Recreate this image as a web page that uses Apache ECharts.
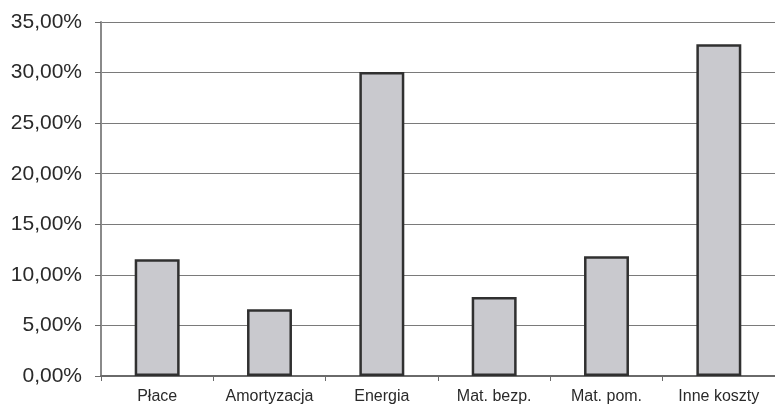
<!DOCTYPE html>
<html>
<head>
<meta charset="utf-8">
<script src="https://cdn.jsdelivr.net/npm/echarts@6/dist/echarts.min.js"></script>
<style>
  html, body { margin: 0; padding: 0; background: #fff; }
  #chart { width: 775px; height: 409px; }
</style>
</head>
<body>
<div id="chart"></div>
<script>
// Cost structure shares (percent)
const categories = ['Płace', 'Amortyzacja', 'Energia', 'Mat. bezp.', 'Mat. pom.', 'Inne koszty'];
const shares = [11.55, 6.6, 30.05, 7.8, 11.85, 32.8];
const yTicks = [0, 5, 10, 15, 20, 25, 30, 35];

const chart = echarts.init(document.getElementById('chart'), null, { renderer: 'canvas' });

chart.setOption({
  animation: false,
  backgroundColor: '#ffffff',
  grid: { left: 101, top: 22, right: -7, bottom: 33, containLabel: false },
  xAxis: {
    type: 'category',
    data: categories,
    axisLine: { show: true, lineStyle: { color: '#6a6a6a', width: 2 } },
    axisTick: { show: true, interval: 0, alignWithLabel: false, length: 5, lineStyle: { color: '#6a6a6a', width: 1 } },
    axisLabel: {
      interval: 0, hideOverlap: false,
      color: '#2a2a2a', fontFamily: 'Liberation Sans, Arial, sans-serif', fontSize: 16, margin: 13
    },
    splitLine: { show: false }
  },
  yAxis: {
    type: 'value',
    min: yTicks[0],
    max: yTicks[yTicks.length - 1],
    interval: 5,
    axisLine: { show: true, lineStyle: { color: '#8a8a8a', width: 2 } },
    axisTick: { show: true, inside: false, length: 6, lineStyle: { color: '#6a6a6a', width: 1 } },
    axisLabel: {
      color: '#2a2a2a', fontFamily: 'Liberation Sans, Arial, sans-serif', fontSize: 21, margin: 19,
      formatter: v => v.toFixed(2).replace('.', ',') + '%'
    },
    splitLine: { show: true, lineStyle: { color: '#7a7a7a', width: 1 } }
  },
  series: [{
    type: 'bar',
    data: shares,
    barWidth: '40%',
    itemStyle: { color: '#c9c9ce', borderColor: '#303030', borderWidth: 2.5 },
    emphasis: { disabled: true }
  }]
});
</script>
</body>
</html>
